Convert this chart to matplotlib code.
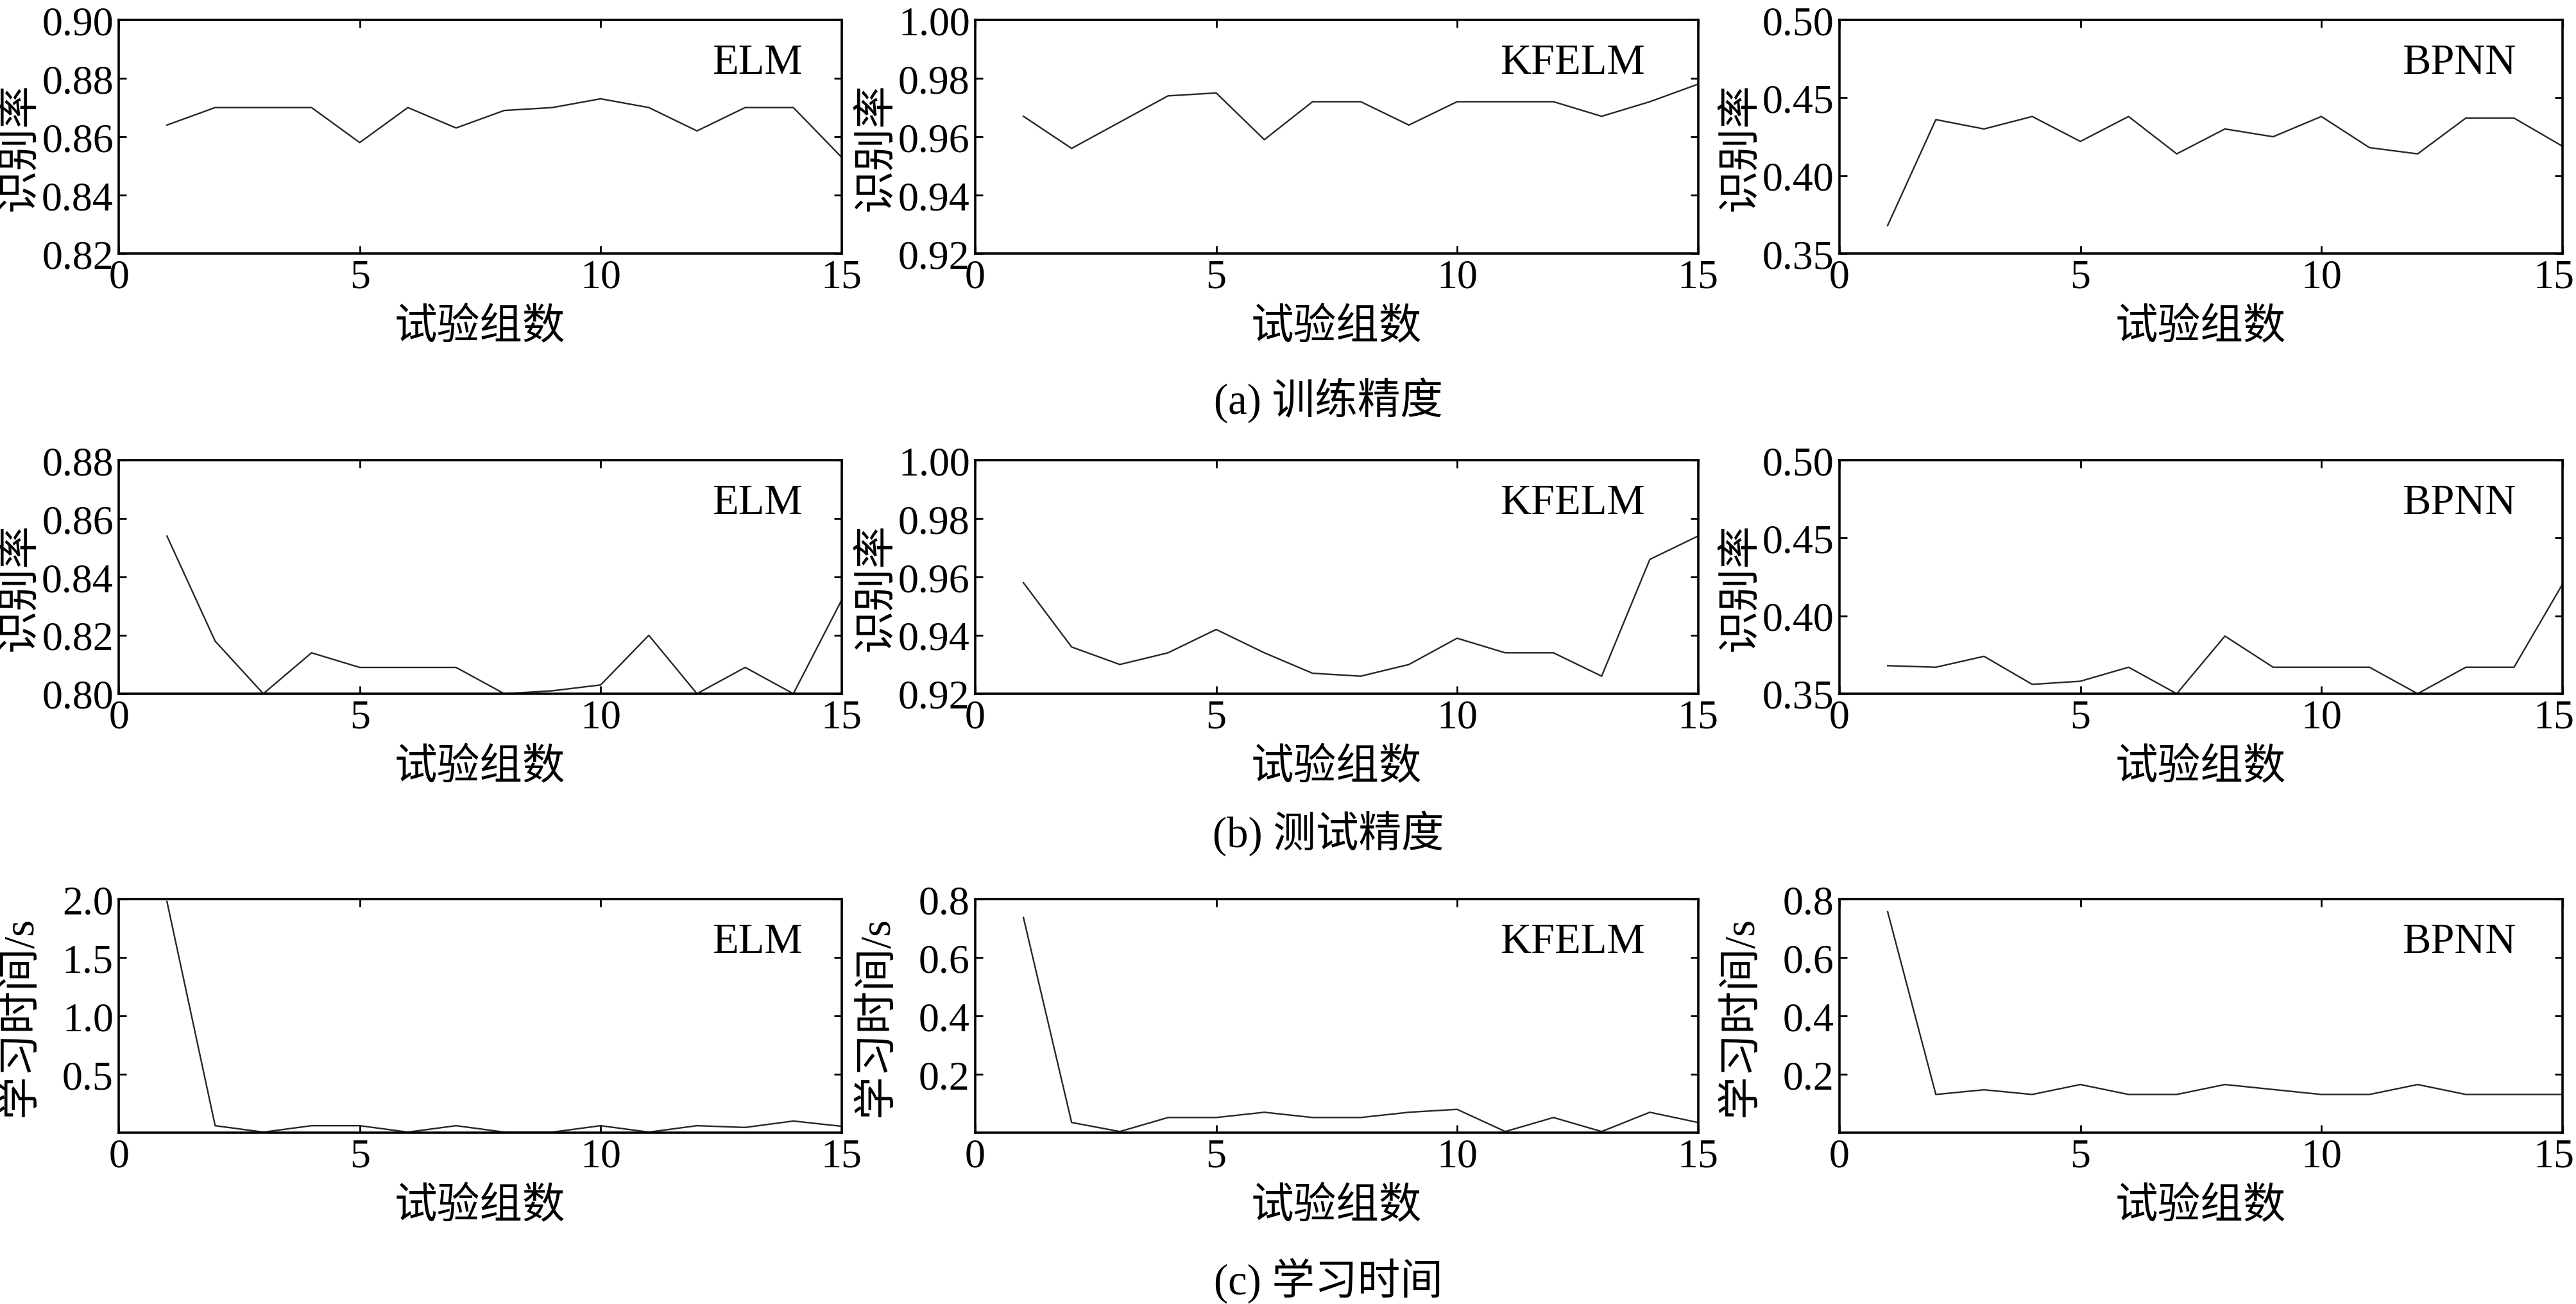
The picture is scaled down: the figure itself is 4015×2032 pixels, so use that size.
import matplotlib
matplotlib.use('Agg')
import matplotlib.pyplot as plt
import matplotlib.transforms as mtransforms
from matplotlib.ticker import FormatStrFormatter

# ---------------- data ----------------
trial = list(range(1, 16))
models = ['ELM', 'KFELM', 'BPNN']

elm_train = [0.864, 0.870, 0.870, 0.870, 0.858, 0.870, 0.863, 0.869, 0.870, 0.873, 0.870, 0.862, 0.870, 0.870, 0.853]
kfelm_train = [0.967, 0.956, 0.965, 0.974, 0.975, 0.959, 0.972, 0.972, 0.964, 0.972, 0.972, 0.972, 0.967, 0.972, 0.978]
bpnn_train = [0.368, 0.436, 0.430, 0.438, 0.422, 0.438, 0.414, 0.430, 0.425, 0.438, 0.418, 0.414, 0.437, 0.437, 0.419]

elm_test = [0.854, 0.818, 0.800, 0.814, 0.809, 0.809, 0.809, 0.800, 0.801, 0.803, 0.820, 0.800, 0.809, 0.800, 0.832]
kfelm_test = [0.958, 0.936, 0.930, 0.934, 0.942, 0.934, 0.927, 0.926, 0.930, 0.939, 0.934, 0.934, 0.926, 0.966, 0.974]
bpnn_test = [0.368, 0.367, 0.374, 0.356, 0.358, 0.367, 0.350, 0.387, 0.367, 0.367, 0.367, 0.350, 0.367, 0.367, 0.420]

elm_time = [1.98, 0.060, 0.005, 0.060, 0.060, 0.005, 0.060, 0.005, 0.005, 0.060, 0.005, 0.060, 0.045, 0.100, 0.055]
kfelm_time = [0.737, 0.035, 0.004, 0.052, 0.052, 0.070, 0.052, 0.052, 0.070, 0.080, 0.004, 0.052, 0.004, 0.070, 0.035]
bpnn_time = [0.757, 0.131, 0.147, 0.131, 0.165, 0.131, 0.131, 0.165, 0.148, 0.131, 0.131, 0.165, 0.131, 0.131, 0.131]

xticks = [0, 5, 10, 15]
acc_label = '识别率'
time_label = '学习时间/s'
x_label = '试验组数'
captions = ['(a) 训练精度', '(b) 测试精度', '(c) 学习时间']

train_yticks = [[0.82, 0.84, 0.86, 0.88, 0.90], [0.92, 0.94, 0.96, 0.98, 1.00], [0.35, 0.40, 0.45, 0.50]]
test_yticks = [[0.80, 0.82, 0.84, 0.86, 0.88], [0.92, 0.94, 0.96, 0.98, 1.00], [0.35, 0.40, 0.45, 0.50]]
time_yticks = [[0.5, 1.0, 1.5, 2.0], [0.2, 0.4, 0.6, 0.8], [0.2, 0.4, 0.6, 0.8]]
time_ylims = [(0, 2.0), (0, 0.8), (0, 0.8)]

# ---------------- style ----------------
plt.rcParams['font.family'] = ['Liberation Serif', 'Noto Sans CJK SC']
plt.rcParams['axes.unicode_minus'] = False

fig = plt.figure(figsize=(40.16, 20.33), dpi=100)

col_left = [0.0461, 0.3785, 0.7139]
col_w = 0.2805
row_bottom = [0.8052, 0.4678, 0.1313]
row_h = 0.179
name_x = [0.946, 0.927, 0.936]

rows = [
    ([elm_train, kfelm_train, bpnn_train], train_yticks, None, acc_label, '%.2f', 0.46),
    ([elm_test, kfelm_test, bpnn_test], test_yticks, None, acc_label, '%.2f', 0.46),
    ([elm_time, kfelm_time, bpnn_time], time_yticks, time_ylims, time_label, '%.1f', 0.50),
]
caption_y = [0.693, 0.361, 0.018]

for r, (series, yt, ylims, ylab, fmt, ylab_y) in enumerate(rows):
    for c in range(3):
        ax = fig.add_axes([col_left[c], row_bottom[r], col_w, row_h])
        ax.plot(trial, series[c], color='#262626', lw=1.7)
        ax.set_xlim(0, 15)
        ax.set_xticks(xticks)
        if ylims is None:
            ax.set_ylim(yt[c][0], yt[c][-1])
        else:
            ax.set_ylim(*ylims[c])
        ax.set_yticks(yt[c])
        ax.yaxis.set_major_formatter(FormatStrFormatter(fmt))
        ax.tick_params(direction='in', length=8.5, width=2.0, labelsize=46, pad=6,
                       top=True, right=True, colors='black')
        for lab in ax.get_xticklabels() + ax.get_yticklabels():
            lab.set_fontfamily(['Liberation Serif', 'Noto Sans CJK SC'])
        if c == 2:
            # keep the last x tick label inside the figure edge
            last = ax.xaxis.get_major_ticks()[-1].label1
            last.set_transform(last.get_transform() +
                               mtransforms.ScaledTranslation(-0.13, 0, fig.dpi_scale_trans))
        for sp in ax.spines.values():
            sp.set_linewidth(2.6)
        ax.set_xlabel(x_label, fontsize=48)
        ax.xaxis.label.set_va('center')
        ax.xaxis.set_label_coords(0.5, -0.315)
        ax.set_ylabel(ylab, fontsize=48)
        ax.yaxis.label.set_va('center')
        ax.yaxis.set_label_coords(-0.136, ylab_y)
        ax.text(name_x[c], 0.818, models[c], transform=ax.transAxes,
                ha='right', va='center', fontsize=48)
    fig.text(0.5155, caption_y[r], captions[r], ha='center', va='center', fontsize=48)

fig.savefig('out.png', dpi=100)
